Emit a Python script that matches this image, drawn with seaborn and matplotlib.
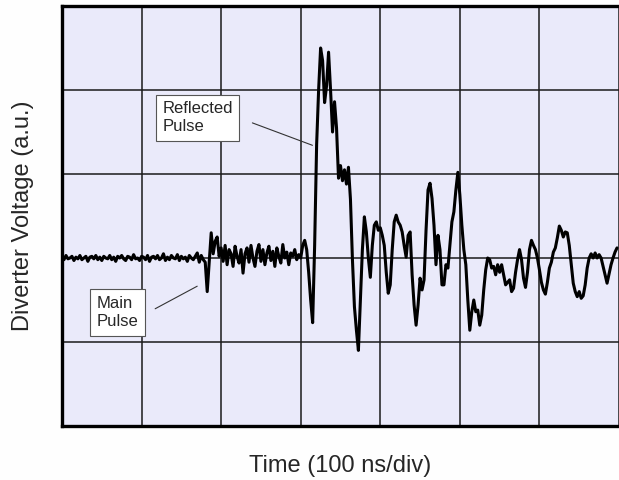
import numpy as np
import pandas as pd
import matplotlib
matplotlib.use("Agg")
import matplotlib.pyplot as plt
import seaborn as sns

# ---- data (2.5 ns sample spacing) ----
sample_ns = 2.5
baseline_v = [0.01, -0.02, 0.03, -0.01, 0.00, 0.02, -0.03, 0.01, -0.01, 0.03,
              -0.02, 0.00, 0.02, -0.04, 0.01, 0.02, -0.01, 0.03, -0.02, 0.01,
              -0.03, 0.02, 0.00, -0.01, 0.03, -0.02, 0.01, -0.04, 0.02, 0.00,
              0.03, -0.01, -0.03, 0.02, 0.01, -0.02, 0.04, -0.01, 0.00, -0.03,
              0.02, 0.01, -0.02, 0.03, -0.04, 0.01, 0.02, -0.01, 0.03, -0.02,
              0.00, 0.05, -0.03, 0.01, -0.02, 0.03, 0.00, -0.01, 0.04, -0.03,
              0.02, -0.01, 0.01, -0.04, 0.03, 0.00, -0.02, 0.02, 0.06, -0.05,
              0.03, -0.02]
main_pulse_v = [-0.05, -0.40, -0.05, 0.30, 0.05, 0.20, 0.25, 0.02, 0.12, -0.04,
                0.15, -0.08, 0.10, 0.05, -0.10, 0.14, 0.02, -0.06, 0.10, -0.18,
                0.05, 0.12, -0.05, 0.15, 0.00, -0.10, 0.08, 0.16, -0.04, 0.10,
                -0.08, 0.06, 0.14, -0.03, 0.08, -0.10, 0.12, 0.02, -0.06, 0.16,
                0.00, 0.07, -0.08, 0.06, 0.02, 0.10, -0.02, 0.04]
reflected_v = [0.00, 0.15, 0.21, 0.10, -0.17, -0.50, -0.77, 0.15, 1.35, 2.00,
               2.50, 2.35, 1.85, 2.05, 2.45, 2.00, 1.50, 1.86, 1.55, 0.95,
               1.10, 0.92, 1.05, 0.88, 1.08, 0.70, -0.02, -0.58, -0.86, -1.10,
               -0.50, 0.10, 0.49, 0.31, 0.00, -0.23, 0.15, 0.39, 0.43, 0.33,
               0.36, 0.27, 0.15, -0.17, -0.42, -0.32, 0.10, 0.43, 0.51, 0.43,
               0.39, 0.31, 0.15, 0.01, 0.27, 0.31, -0.20, -0.56, -0.80, -0.56,
               -0.24, -0.38, -0.26, 0.33, 0.81, 0.89, 0.71, 0.39, -0.08, 0.27,
               0.10, -0.32, -0.32, -0.08, -0.12, 0.15, 0.43, 0.55, 0.81, 1.02,
               0.75, 0.39, 0.10, -0.08, -0.50, -0.86, -0.64, -0.50, -0.64, -0.62,
               -0.80, -0.68, -0.38, -0.14, 0.00, -0.02, -0.12, -0.10, -0.20, -0.08,
               -0.17, -0.08, -0.20, -0.32, -0.29, -0.26, -0.40, -0.36, -0.17, -0.02,
               0.10, -0.02, -0.24, -0.35, -0.17, 0.10, 0.21, 0.15, 0.10, 0.00,
               -0.14, -0.29, -0.38, -0.43, -0.29, -0.12, -0.05, 0.07, 0.12, 0.24,
               0.38, 0.33, 0.25, 0.31, 0.30, 0.15, -0.08, -0.30, -0.40, -0.46,
               -0.40, -0.48, -0.45, -0.32, -0.12, 0.00, 0.05, 0.00, 0.06, 0.00,
               0.04, 0.00, -0.10, -0.20, -0.30, -0.19, -0.08, 0.00, 0.07, 0.12]

voltage = baseline_v + main_pulse_v + reflected_v
time_ns = np.arange(len(voltage)) * sample_ns
df = pd.DataFrame({"time": time_ns, "voltage": voltage})

x_div = [0, 100, 200, 300, 400, 500, 600, 700]
y_div = [-2, -1, 0, 1, 2, 3]

# ---- figure ----
sns.set_style("white")
plt.rcParams["font.family"] = ["Liberation Sans", "DejaVu Sans"]

fig = plt.figure(figsize=(6.19, 4.80), dpi=100)
fig.patch.set_facecolor("#fefefe")
ax = fig.add_axes([62 / 619, 54 / 480, 557 / 619, 420 / 480])
ax.set_facecolor("#eaeafa")

sns.lineplot(data=df, x="time", y="voltage", ax=ax, color="black",
             linewidth=2.2, estimator=None, sort=False)

ax.set_xlim(x_div[0], x_div[-1])
ax.set_ylim(y_div[0], y_div[-1])
ax.set_xticks(x_div)
ax.set_yticks(y_div)
ax.tick_params(length=0, labelbottom=False, labelleft=False)
ax.grid(True, color="#1a1a1a", linewidth=1.1)
ax.set_axisbelow(True)

for side in ["left", "top", "bottom"]:
    ax.spines[side].set_visible(True)
    ax.spines[side].set_linewidth(2.4)
    ax.spines[side].set_color("black")
ax.spines["right"].set_visible(False)

ax.set_xlabel("Time (100 ns/div)", fontsize=17, labelpad=21)
ax.set_ylabel("Diverter Voltage (a.u.)", fontsize=17, labelpad=20)

box = dict(boxstyle="square,pad=0.4", facecolor="white", edgecolor="#555555",
           linewidth=0.8)
ax.text(126, 1.67, "Reflected\nPulse", fontsize=12, ha="left", va="center",
        bbox=box, linespacing=1.25, zorder=5)
ax.annotate("", xy=(318, 1.33), xytext=(236, 1.62),
            arrowprops=dict(arrowstyle="-", color="#333333", lw=0.8))

ax.text(44, -0.65, "Main\nPulse", fontsize=12, ha="left", va="center",
        bbox=box, linespacing=1.25, zorder=5)
ax.annotate("", xy=(173, -0.32), xytext=(114, -0.62),
            arrowprops=dict(arrowstyle="-", color="#333333", lw=0.8))

fig.savefig("out.png", dpi=100, facecolor=fig.get_facecolor())
